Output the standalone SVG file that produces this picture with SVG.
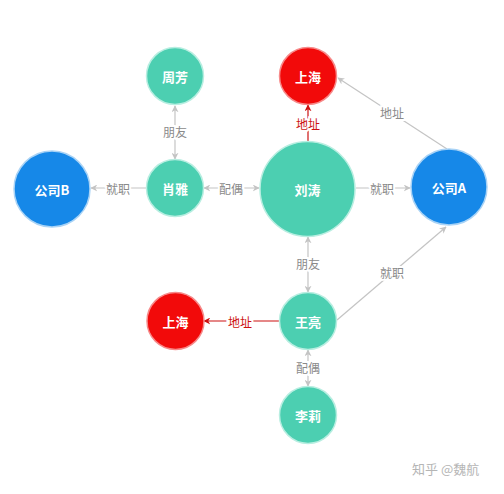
<svg xmlns="http://www.w3.org/2000/svg" width="504" height="494" viewBox="0 0 504 494">
<style>
.bg{fill:#ffffff}
.teal{fill:#4ccfb1;stroke:#b8eee1;stroke-width:1.5}
.blue{fill:#1688e8;stroke:#a9d3f6;stroke-width:1.5}
.red{fill:#f20a0a;stroke:#f78a8a;stroke-width:1.5}
.nt{font-family:"Noto Sans CJK SC","Noto Sans",sans-serif;font-size:13px;font-weight:bold;fill:#ffffff;text-anchor:middle;dominant-baseline:central}
.e{stroke:#c4c4c4;stroke-width:1.2;fill:none}
.er{stroke:#cc1111;stroke-width:1.2;fill:none}
.lb{font-family:"Noto Sans CJK SC","Noto Sans",sans-serif;font-size:12px;fill:#8a8a8a;text-anchor:middle;dominant-baseline:central;stroke:#ffffff;stroke-width:4;paint-order:stroke}
.lr{fill:#cc1111}
.wm{font-family:"Noto Sans CJK SC","Noto Sans",sans-serif;font-size:13px;fill:#b5b5b5}
</style>
<defs>
<marker id="ag" viewBox="0 0 10 10" refX="9" refY="5" markerWidth="7" markerHeight="7" markerUnits="userSpaceOnUse" orient="auto-start-reverse"><path d="M0,0 L10,5 L0,10 L3,5 z" fill="#c4c4c4"/></marker>
<marker id="ar" viewBox="0 0 10 10" refX="9" refY="5" markerWidth="7" markerHeight="7" markerUnits="userSpaceOnUse" orient="auto-start-reverse"><path d="M0,0 L10,5 L0,10 L3,5 z" fill="#cc1111"/></marker>
</defs>
<rect class="bg" x="0" y="0" width="504" height="494"/>
<g id="edges">
<line class="e" x1="175" y1="106" x2="175" y2="159" marker-start="url(#ag)" marker-end="url(#ag)"/>
<line class="e" x1="147" y1="188" x2="91" y2="188" marker-end="url(#ag)"/>
<line class="e" x1="204" y1="188" x2="259" y2="188" marker-start="url(#ag)" marker-end="url(#ag)"/>
<line class="er" x1="308" y1="141" x2="308" y2="105" marker-end="url(#ar)"/>
<line class="e" x1="447" y1="149" x2="338" y2="78" marker-end="url(#ag)"/>
<line class="e" x1="356" y1="188" x2="410" y2="188" marker-end="url(#ag)"/>
<line class="e" x1="337" y1="320" x2="446" y2="227" marker-end="url(#ag)"/>
<line class="e" x1="308" y1="237" x2="308" y2="292" marker-start="url(#ag)" marker-end="url(#ag)"/>
<line class="er" x1="279" y1="321" x2="204" y2="321" marker-end="url(#ar)"/>
<line class="e" x1="308" y1="350" x2="308" y2="386" marker-start="url(#ag)" marker-end="url(#ag)"/>
<text class="lb" x="175" y="131">朋友</text>
<text class="lb" x="118" y="188">就职</text>
<text class="lb" x="231" y="188">配偶</text>
<text class="lb lr" x="308" y="123">地址</text>
<text class="lb" x="392" y="112">地址</text>
<text class="lb" x="382" y="188">就职</text>
<text class="lb" x="308" y="263">朋友</text>
<text class="lb" x="392" y="272">就职</text>
<text class="lb lr" x="240" y="321">地址</text>
<text class="lb" x="308" y="367">配偶</text>
</g>
<g id="n-zhoufang"><circle class="teal" cx="175" cy="76" r="28.5"/><text class="nt" x="175" y="76">周芳</text></g>
<g id="n-xiaoya"><circle class="teal" cx="175" cy="188" r="28.5"/><text class="nt" x="175" y="188">肖雅</text></g>
<g id="n-companyB"><circle class="blue" cx="52" cy="189" r="38"/><text class="nt" x="52" y="189">公司B</text></g>
<g id="n-shanghai1"><circle class="red" cx="308" cy="76" r="28.5"/><text class="nt" x="308" y="76">上海</text></g>
<g id="n-liutao"><circle class="teal" cx="307.5" cy="189" r="47.5"/><text class="nt" x="307.5" y="189">刘涛</text></g>
<g id="n-companyA"><circle class="blue" cx="449" cy="187" r="38"/><text class="nt" x="449" y="187">公司A</text></g>
<g id="n-wangliang"><circle class="teal" cx="308" cy="321" r="28.5"/><text class="nt" x="308" y="321">王亮</text></g>
<g id="n-shanghai2"><circle class="red" cx="175.5" cy="321" r="28.5"/><text class="nt" x="175.5" y="321">上海</text></g>
<g id="n-lili"><circle class="teal" cx="308" cy="415" r="28.5"/><text class="nt" x="308" y="415">李莉</text></g>
<text class="wm" x="412" y="474">知乎 @魏航</text>
</svg>
